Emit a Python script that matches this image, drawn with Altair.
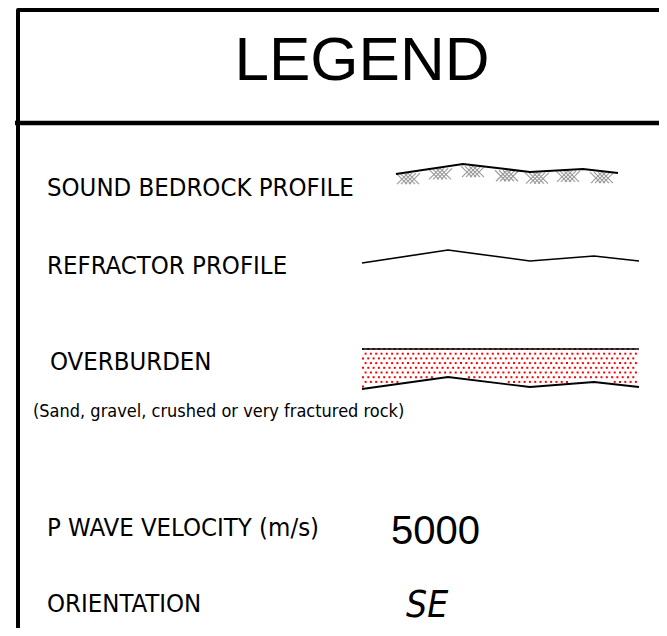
import altair as alt
import numpy as np
import pandas as pd

# ---------------- data ----------------
title_text = ["LEGEND"]
label_texts = ["SOUND BEDROCK PROFILE", "REFRACTOR PROFILE", "OVERBURDEN",
               "P WAVE VELOCITY (m/s)", "ORIENTATION"]
label_x = [47, 47, 50, 47, 47]
label_y = [196, 274, 370, 536, 612]
note_text = ["(Sand, gravel, crushed or very fractured rock)"]
velocity_text = ["5000"]
orientation_text = ["SE"]

# profile polylines (picture coordinates)
bedrock_x = [396, 463, 530, 583, 618]
bedrock_y = [174, 164, 172, 169, 173]
hatch_cx = [408, 440, 473, 507, 537, 568, 602]
profile_x = [362, 448, 530, 594, 639]
refractor_y = [263, 250, 261, 256, 261]
overburden_top_y = 349
overburden_bottom_y = [389, 377, 387, 382, 387]

NARROW = "DejaVu Sans Condensed"

# ---------------- scales ----------------
W, H = 651, 620
xsc = alt.Scale(domain=[8, 8 + W], range=[0, W], nice=False, zero=False)
ysc = alt.Scale(domain=[8, 8 + H], range=[0, H], nice=False, zero=False)
X = lambda f="x": alt.X(f"{f}:Q", scale=xsc, axis=None)
Y = lambda f="y": alt.Y(f"{f}:Q", scale=ysc, axis=None)

# frame
frame = pd.DataFrame({"x": [18, 18, 659], "y": [628, 10, 10], "o": [0, 1, 2]})
frame_layer = alt.Chart(frame).mark_line(color="black", strokeWidth=4, strokeJoin="round").encode(
    x=X(), y=Y(), order="o:Q")
divider = pd.DataFrame({"x": [15], "x2": [659], "y": [123]})
divider_layer = alt.Chart(divider).mark_rule(color="black", strokeWidth=4.5).encode(
    x=X(), x2="x2:Q", y=Y())

# bedrock hatch (crosshatch groups under the profile)
segs = []
for cx in hatch_cx:
    yt = float(np.interp(cx, bedrock_x, bedrock_y)) + 1
    for k in (-6, -2, 2, 6):
        segs.append({"x": cx - 6 + k, "y": yt, "x2": cx + 5 + k, "y2": yt + 11})
        segs.append({"x": cx + 6 + k, "y": yt, "x2": cx - 5 + k, "y2": yt + 11})
hatch_layer = alt.Chart(pd.DataFrame(segs)).mark_rule(color="#999999", strokeWidth=1.1).encode(
    x=X(), y=Y(), x2="x2:Q", y2="y2:Q")
bedrock = pd.DataFrame({"x": bedrock_x, "y": bedrock_y, "o": range(len(bedrock_x))})
bedrock_layer = alt.Chart(bedrock).mark_line(color="black", strokeWidth=2).encode(
    x=X(), y=Y(), order="o:Q")

# refractor
refr = pd.DataFrame({"x": profile_x, "y": refractor_y, "o": range(len(profile_x))})
refr_layer = alt.Chart(refr).mark_line(color="black", strokeWidth=1.6).encode(
    x=X(), y=Y(), order="o:Q")

# overburden dots
dots = []
r = 0
yy = overburden_top_y
while yy < max(overburden_bottom_y):
    off = 0 if r % 2 == 0 else 2.6
    xx = profile_x[0] + 1 + off
    while xx <= profile_x[-1] - 1:
        if yy < np.interp(xx, profile_x, overburden_bottom_y) - 2:
            dots.append({"x": xx, "y": yy})
        xx += 5.3
    yy += 4.7
    r += 1
ob_top = pd.DataFrame({"x": [profile_x[0]], "x2": [profile_x[-1]], "y": [overburden_top_y]})
ob_top_layer = alt.Chart(ob_top).mark_rule(color="black", strokeWidth=1.5).encode(
    x=X(), x2="x2:Q", y=Y())
dots_layer = alt.Chart(pd.DataFrame(dots)).mark_square(color="#ff0000", size=4, opacity=1).encode(
    x=X(), y=Y())
ob_bot = pd.DataFrame({"x": profile_x, "y": overburden_bottom_y, "o": range(len(profile_x))})
ob_bot_layer = alt.Chart(ob_bot).mark_line(color="black", strokeWidth=1.8).encode(
    x=X(), y=Y(), order="o:Q")

# texts
title_layer = alt.Chart(pd.DataFrame({"t": title_text, "x": [362], "y": [80]})).mark_text(
    font="Liberation Sans", fontSize=62, align="center", baseline="alphabetic", color="black"
).encode(x=X(), y=Y(), text="t:N")
labels_layer = alt.Chart(pd.DataFrame({"t": label_texts, "x": label_x, "y": label_y})).mark_text(
    font=NARROW, fontSize=25.5, align="left", baseline="alphabetic", color="black"
).encode(x=X(), y=Y(), text="t:N")
note_layer = alt.Chart(pd.DataFrame({"t": note_text, "x": [33], "y": [417]})).mark_text(
    font=NARROW, fontSize=18, align="left", baseline="alphabetic", color="black"
).encode(x=X(), y=Y(), text="t:N")
vel_layer = alt.Chart(pd.DataFrame({"t": velocity_text, "x": [391], "y": [544]})).mark_text(
    font="Liberation Sans", fontSize=40, align="left", baseline="alphabetic", color="black"
).encode(x=X(), y=Y(), text="t:N")
ori_layer = alt.Chart(pd.DataFrame({"t": orientation_text, "x": [406], "y": [617]})).mark_text(
    font=NARROW, fontSize=37, fontStyle="italic", align="left",
    baseline="alphabetic", color="black"
).encode(x=X(), y=Y(), text="t:N")

chart = alt.layer(
    frame_layer, divider_layer, hatch_layer, bedrock_layer, refr_layer,
    dots_layer, ob_top_layer, ob_bot_layer,
    title_layer, labels_layer, note_layer, vel_layer, ori_layer
).properties(
    width=W, height=H, padding=0, autosize=alt.AutoSizeParams(type="none"),
    background="white"
).configure_view(stroke=None)

chart.save("out.html", embed_options={"renderer": "svg", "actions": False})
